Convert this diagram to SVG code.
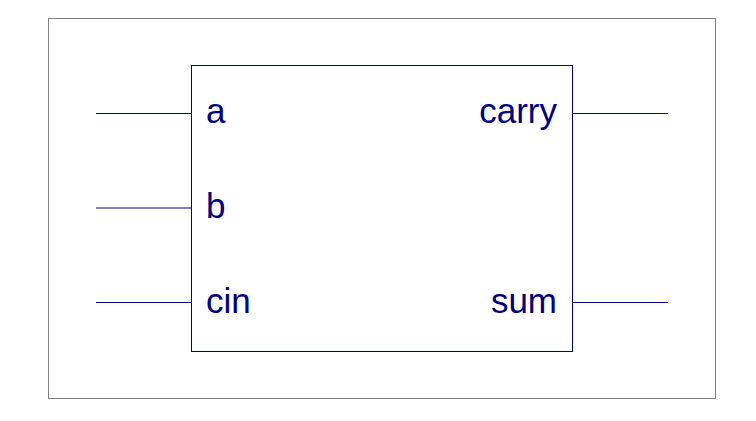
<svg xmlns="http://www.w3.org/2000/svg" width="756" height="421" viewBox="0 0 756 421">
<style>
.frame{fill:none;stroke:#808080;stroke-width:1}
.box{fill:#fff;stroke:#000080;stroke-width:1}
.wire{stroke:#000080;stroke-width:1;fill:none}
.lbl{font-family:"Liberation Sans",Arial,sans-serif;font-size:35px;fill:#000080}
.r{text-anchor:end}
</style>
<rect width="756" height="421" fill="#fff"/>
<rect class="frame" x="48.5" y="18.5" width="667" height="380"/>
<g id="connectors">
<line class="wire" x1="96" y1="113.5" x2="191.5" y2="113.5"/>
<line class="wire" x1="96" y1="208" x2="191.5" y2="208"/>
<line class="wire" x1="96" y1="302.5" x2="191.5" y2="302.5"/>
<line class="wire" x1="572.5" y1="113.5" x2="668" y2="113.5"/>
<line class="wire" x1="572.5" y1="302.5" x2="668" y2="302.5"/>
</g>
<g id="full_adder">
<rect class="box" x="191.5" y="65.5" width="381" height="286"/>
<text class="lbl" x="206" y="123">a</text>
<text class="lbl" x="206" y="218">b</text>
<text class="lbl" x="206" y="313">cin</text>
<text class="lbl r" x="557" y="123">carry</text>
<text class="lbl r" x="557" y="313">sum</text>
</g>
</svg>
